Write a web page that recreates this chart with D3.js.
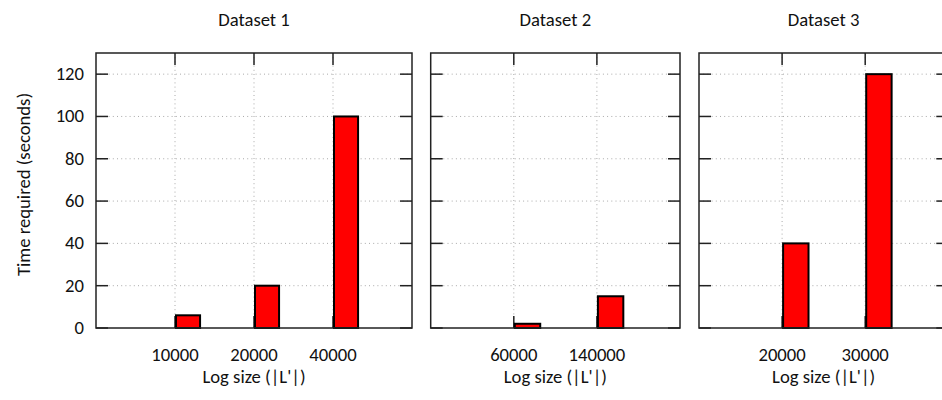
<!DOCTYPE html>
<html><head><meta charset="utf-8">
<script src="https://cdn.jsdelivr.net/npm/d3@7"></script>
<style>
body{margin:0;background:#fff;}
text{font-family:Carlito,"Open Sans",sans-serif;fill:#111;}
</style></head>
<body><svg id="c" width="942" height="400"></svg>
<script>
const titles = ["Dataset 1", "Dataset 2", "Dataset 3"];
const categories1 = ["10000", "20000", "40000"];
const values1 = [6, 20, 100];
const categories2 = ["60000", "140000"];
const values2 = [2, 15];
const categories3 = ["20000", "30000"];
const values3 = [40, 120];
const yTicks = [0, 20, 40, 60, 80, 100, 120];
const yLabel = "Time required (seconds)";
const xLabel = "Log size (|L'|)";

const panels = [
  {title: titles[0], cats: categories1, vals: values1, x0: 96, x1: 412, ylab: true},
  {title: titles[1], cats: categories2, vals: values2, x0: 430.7, x1: 680, ylab: false},
  {title: titles[2], cats: categories3, vals: values3, x0: 699, x1: 948.3, ylab: false}
];
const plotTop = 53, plotBottom = 328, tickLen = 12, fs = 18.67;
const svg = d3.select("#c");
const y = d3.scaleLinear().domain([0, 130]).range([plotBottom, plotTop]);

panels.forEach(p => {
  const n = p.cats.length;
  const x = d3.scaleLinear().domain([0, n + 1]).range([p.x0, p.x1]);
  const step = x(1) - x(0);
  const g = svg.append("g");
  const cx = (p.x0 + p.x1) / 2;
  // grid
  g.selectAll(".gy").data(yTicks.filter(d => d > 0)).join("line")
    .attr("x1", p.x0).attr("x2", p.x1).attr("y1", d => y(d)).attr("y2", d => y(d))
    .attr("stroke", "#aaa").attr("stroke-width", 1).attr("stroke-dasharray", "1,3.2");
  g.selectAll(".gx").data(p.cats).join("line")
    .attr("x1", (d, i) => x(i + 1)).attr("x2", (d, i) => x(i + 1)).attr("y1", plotTop).attr("y2", plotBottom)
    .attr("stroke", "#aaa").attr("stroke-width", 1).attr("stroke-dasharray", "1,3.2");
  // ticks
  yTicks.forEach(t => {
    g.append("line").attr("x1", p.x0).attr("x2", p.x0 + tickLen).attr("y1", y(t)).attr("y2", y(t)).attr("stroke", "#222").attr("stroke-width", 1.5);
    g.append("line").attr("x1", p.x1 - tickLen).attr("x2", p.x1).attr("y1", y(t)).attr("y2", y(t)).attr("stroke", "#222").attr("stroke-width", 1.5);
  });
  p.cats.forEach((c, i) => {
    g.append("line").attr("x1", x(i + 1)).attr("x2", x(i + 1)).attr("y1", plotBottom).attr("y2", plotBottom - tickLen).attr("stroke", "#222").attr("stroke-width", 1.5);
    g.append("line").attr("x1", x(i + 1)).attr("x2", x(i + 1)).attr("y1", plotTop).attr("y2", plotTop + tickLen).attr("stroke", "#222").attr("stroke-width", 1.5);
  });
  // bars
  const bw = step * 0.33;
  g.selectAll("rect.bar").data(p.vals).join("rect").attr("class", "bar")
    .attr("x", (d, i) => x(i + 1) + 1).attr("width", bw - 2)
    .attr("y", d => y(d)).attr("height", d => plotBottom - y(d))
    .attr("fill", "#ff0000").attr("stroke", "#000").attr("stroke-width", 2);
  // frame
  g.append("rect").attr("x", p.x0).attr("y", plotTop).attr("width", p.x1 - p.x0).attr("height", plotBottom - plotTop)
    .attr("fill", "none").attr("stroke", "#222").attr("stroke-width", 1.5);
  // tick labels
  p.cats.forEach((c, i) => {
    g.append("text").attr("x", x(i + 1)).attr("y", 361).attr("text-anchor", "middle").attr("font-size", fs).text(c);
  });
  if (p.ylab) {
    yTicks.forEach(t => {
      g.append("text").attr("x", p.x0 - 12).attr("y", y(t)).attr("dy", "0.32em").attr("text-anchor", "end").attr("font-size", fs).text(t);
    });
    svg.append("text").attr("transform", `translate(30,184.5) rotate(-90)`)
      .attr("text-anchor", "middle").attr("font-size", fs).text(yLabel);
  }
  g.append("text").attr("x", cx).attr("y", 26).attr("text-anchor", "middle").attr("font-size", fs).text(p.title);
  g.append("text").attr("x", cx).attr("y", 383).attr("text-anchor", "middle").attr("font-size", fs).text(xLabel);
});
</script></body></html>
